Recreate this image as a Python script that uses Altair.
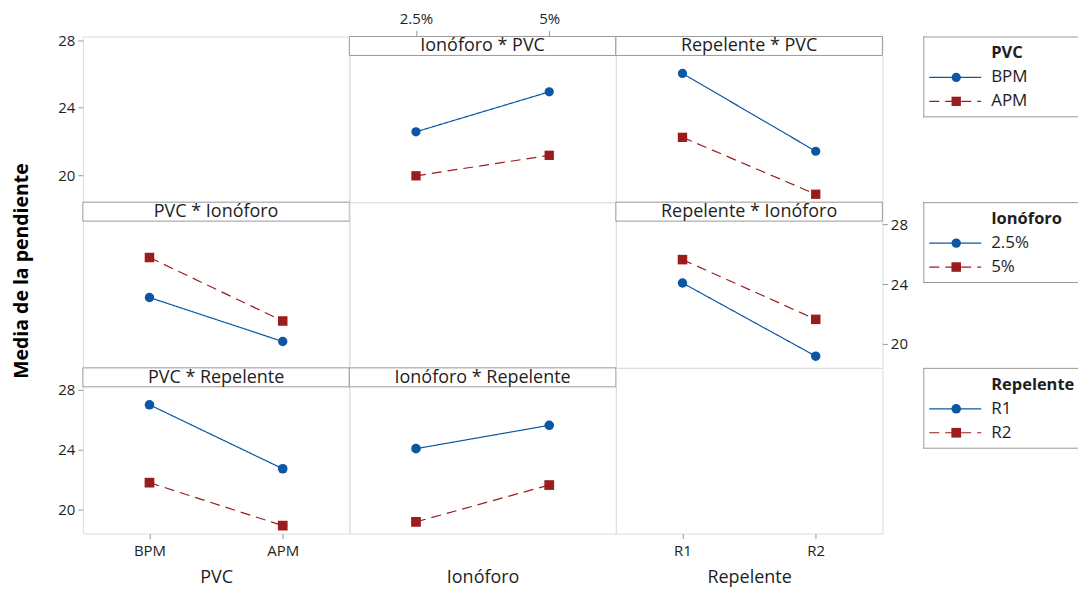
import altair as alt
import pandas as pd

# ---------------- data ----------------
pvc_levels = ["BPM", "APM"]
iono_levels = ["2.5%", "5%"]
rep_levels = ["R1", "R2"]

# two-way cell means of "Media de la pendiente"
pvc_by_iono = {"BPM": [23.10, 25.77], "APM": [20.16, 21.53]}   # columns: Ionóforo 2.5%, 5%
pvc_by_rep = {"BPM": [27.00, 21.80], "APM": [22.73, 18.93]}    # columns: Repelente R1, R2
iono_by_rep = {"2.5%": [24.07, 19.18], "5%": [25.63, 21.64]}   # columns: Repelente R1, R2

y_ticks = [20, 24, 28]
y_title = "Media de la pendiente"

# ---------------- style ----------------
BLUE = "#0b57a4"
RED = "#9b1c1c"
GRAY = "#999999"
TXT = "#1e1e1e"
FONT = "Open Sans"
W, H = 267, 166
LW = 196
STRIP = 19
YDOM = [18.4, 29.467]
YDOM_TL = [18.4, 28.237]


def long_table(table, row_levels, col_levels, x_is_row):
    recs = []
    for r in row_levels:
        for j, c in enumerate(col_levels):
            v = table[r][j]
            if x_is_row:
                recs.append({"x": r, "s": c, "v": v})
            else:
                recs.append({"x": c, "s": r, "v": v})
    return pd.DataFrame(recs)


def y_axis(orient):
    return alt.Axis(values=y_ticks, orient=orient, domain=False, grid=False,
                    tickColor=GRAY, tickSize=5, labelFontSize=15, labelColor=TXT,
                    labelPadding=3, labelFont=FONT, title=None)


def x_axis_bottom(title, labels=True):
    return alt.Axis(orient="bottom", domain=False, grid=False, labelAngle=0,
                    ticks=labels, labels=labels, tickColor=GRAY, tickSize=5,
                    labelFontSize=15, labelColor=TXT, labelPadding=5, labelFont=FONT,
                    title=title, titleFont=FONT, titleFontSize=18,
                    titleFontWeight="normal", titleColor=TXT,
                    titlePadding=10 if labels else 35)


def x_axis_top():
    return alt.Axis(orient="top", domain=False, grid=False, labelAngle=0,
                    tickColor=GRAY, tickSize=6, labelFontSize=15, labelColor=TXT,
                    labelPadding=4, labelFont=FONT, title=None)


def strip_layers(title):
    d = pd.DataFrame({"t": [title]})
    box = alt.Chart(d).mark_rect(fill="white", stroke=GRAY, strokeWidth=1).encode(
        x=alt.value(0), x2=alt.value(W), y=alt.value(0), y2=alt.value(STRIP))
    txt = alt.Chart(d).mark_text(font=FONT, fontSize=18, color=TXT,
                                 baseline="middle", align="center").encode(
        x=alt.value(W / 2), y=alt.value(STRIP / 2 + 0.5), text="t:N")
    return [box, txt]


def panel(df, xlevels, slevels, title, xaxis=None, yaxis=None):
    xenc = alt.X("x:N", scale=alt.Scale(type="point", domain=xlevels, padding=0.5),
                 axis=xaxis if xaxis is not None else None, sort=xlevels)
    yenc = alt.Y("v:Q", scale=alt.Scale(domain=YDOM, nice=False, zero=False),
                 axis=yaxis if yaxis is not None else None)
    col = alt.Color("s:N", scale=alt.Scale(domain=slevels, range=[BLUE, RED]), legend=None)
    dash = alt.StrokeDash("s:N", scale=alt.Scale(domain=slevels, range=[[1, 0], [10, 6]]),
                          legend=None)
    shp = alt.Shape("s:N", scale=alt.Scale(domain=slevels, range=["circle", "square"]),
                    legend=None)
    size = alt.Size("s:N", scale=alt.Scale(domain=slevels, range=[85, 95]), legend=None)
    line = alt.Chart(df).mark_line(strokeWidth=1.2).encode(
        x=xenc, y=yenc, color=col, strokeDash=dash, detail="s:N")
    pts = alt.Chart(df).mark_point(filled=True, opacity=1).encode(
        x=xenc, y=yenc, color=col, shape=shp, size=size)
    return alt.layer(*strip_layers(title), line, pts).properties(width=W, height=H)


def empty_cell(xlevels=None, xaxis=None, yaxis=None, ydom=YDOM):
    lv = xlevels or ["a"]
    d = pd.DataFrame({"x": lv, "v": [y_ticks[0]] * len(lv)})
    enc = {}
    if xlevels is not None:
        enc["x"] = alt.X("x:N", scale=alt.Scale(type="point", domain=xlevels, padding=0.5),
                         axis=xaxis, sort=xlevels)
    enc["y"] = alt.Y("v:Q", scale=alt.Scale(domain=ydom, nice=False, zero=False),
                     axis=yaxis if yaxis is not None else None)
    return alt.Chart(d).mark_point(opacity=0).encode(**enc).properties(width=W, height=H)


def legend_cell(name, levels):
    d = pd.DataFrame({"t": [name]})
    # box open on the right (cut by the page edge in the original)
    top = alt.Chart(d).mark_rule(color=GRAY, strokeWidth=1).encode(
        x=alt.value(41), x2=alt.value(LW), y=alt.value(0.5))
    bot = alt.Chart(d).mark_rule(color=GRAY, strokeWidth=1).encode(
        x=alt.value(41), x2=alt.value(LW), y=alt.value(80.5))
    left = alt.Chart(d).mark_rule(color=GRAY, strokeWidth=1).encode(
        x=alt.value(41.5), y=alt.value(0), y2=alt.value(81))
    ttl = alt.Chart(d).mark_text(font=FONT, fontSize=16.5, fontWeight="bold", color=TXT,
                                 align="left", baseline="middle").encode(
        x=alt.value(109), y=alt.value(17), text="t:N")
    ld = pd.DataFrame({"lev": levels})
    yenc = alt.Y("lev:N", scale=alt.Scale(type="point", domain=levels, range=[41, 65], padding=0),
                 axis=None)
    col = alt.Color("lev:N", scale=alt.Scale(domain=levels, range=[BLUE, RED]), legend=None)
    dash = alt.StrokeDash("lev:N", scale=alt.Scale(domain=levels, range=[[1, 0], [10, 6]]),
                          legend=None)
    shp = alt.Shape("lev:N", scale=alt.Scale(domain=levels, range=["circle", "square"]),
                    legend=None)
    size = alt.Size("lev:N", scale=alt.Scale(domain=levels, range=[95, 105]), legend=None)
    rule = alt.Chart(ld).mark_rule(strokeWidth=1.2).encode(
        x=alt.value(47), x2=alt.value(99), y=yenc, color=col, strokeDash=dash)
    pts = alt.Chart(ld).mark_point(filled=True, opacity=1).encode(
        x=alt.value(74), y=yenc, color=col, shape=shp, size=size)
    lab = alt.Chart(ld).mark_text(font=FONT, fontSize=17, color=TXT, align="left",
                                  baseline="middle").encode(
        x=alt.value(109), y=yenc, text="lev:N")
    return alt.layer(top, bot, left, ttl, rule, pts, lab).properties(
        width=LW, height=H, view=alt.ViewBackground(stroke="transparent"))


# ---------------- panels ----------------
df_iono_pvc = long_table(pvc_by_iono, pvc_levels, iono_levels, x_is_row=False)
df_rep_pvc = long_table(pvc_by_rep, pvc_levels, rep_levels, x_is_row=False)
df_pvc_iono = long_table(pvc_by_iono, pvc_levels, iono_levels, x_is_row=True)
df_rep_iono = long_table(iono_by_rep, iono_levels, rep_levels, x_is_row=False)
df_pvc_rep = long_table(pvc_by_rep, pvc_levels, rep_levels, x_is_row=True)
df_iono_rep = long_table(iono_by_rep, iono_levels, rep_levels, x_is_row=True)

ytitle_df = pd.DataFrame({"t": [y_title]})
ytitle = alt.Chart(ytitle_df).mark_text(font=FONT, fontSize=19.5, fontWeight="bold", color="black",
                                        angle=270, align="center", baseline="middle").encode(
    x=alt.value(-61), y=alt.value(69), text="t:N")

c11 = empty_cell(yaxis=y_axis("left"), ydom=YDOM_TL)
c12 = panel(df_iono_pvc, iono_levels, pvc_levels, "Ionóforo * PVC", xaxis=x_axis_top())
c13 = panel(df_rep_pvc, rep_levels, pvc_levels, "Repelente * PVC")
c14 = legend_cell("PVC", pvc_levels)

c21 = alt.layer(panel(df_pvc_iono, pvc_levels, iono_levels, "PVC * Ionóforo"), ytitle)
c22 = empty_cell()
c23 = panel(df_rep_iono, rep_levels, iono_levels, "Repelente * Ionóforo", yaxis=y_axis("right"))
c24 = legend_cell("Ionóforo", iono_levels)

c31 = panel(df_pvc_rep, pvc_levels, rep_levels, "PVC * Repelente",
            xaxis=x_axis_bottom("PVC"), yaxis=y_axis("left"))
c32 = panel(df_iono_rep, iono_levels, rep_levels, "Ionóforo * Repelente",
            xaxis=x_axis_bottom("Ionóforo", labels=False))
c33 = empty_cell(xlevels=rep_levels, xaxis=x_axis_bottom("Repelente"))
c34 = legend_cell("Repelente", rep_levels)

chart = alt.concat(c11, c12, c13, c14, c21, c22, c23, c24, c31, c32, c33, c34,
                   columns=4, spacing=0, bounds="flush").configure_view(
    stroke=GRAY, strokeWidth=1).configure(font=FONT).properties(
    padding={"left": 11, "top": 10, "right": 0, "bottom": 0}, background="white")

chart.save("out.html", embed_options={"renderer": "svg", "actions": False})
